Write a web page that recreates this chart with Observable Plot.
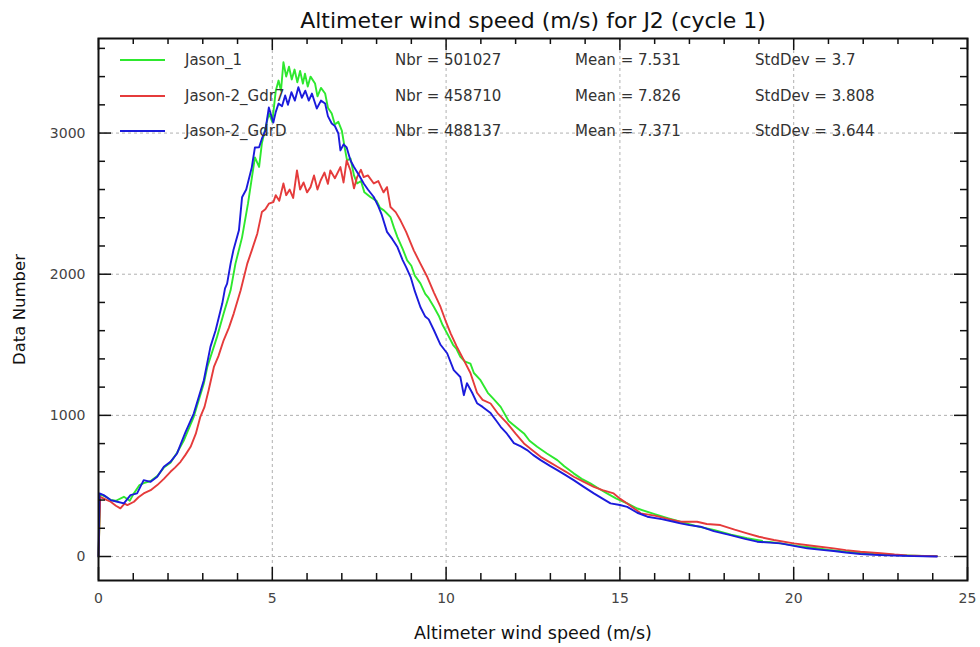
<!DOCTYPE html>
<html><head><meta charset="utf-8">
<script src="https://cdn.jsdelivr.net/npm/d3@7"></script>
<script src="https://cdn.jsdelivr.net/npm/@observablehq/plot@0.6"></script>
<style>
body{margin:0;background:#fff;}
#chart svg{font-family:"DejaVu Sans",sans-serif;display:block;}
</style>
</head><body><div id="chart"></div>
<script>
const chartTitle = "Altimeter wind speed (m/s) for J2 (cycle 1)";
const xLabel = "Altimeter wind speed (m/s)";
const yLabel = "Data Number";
const seriesNames = ["Jason_1", "Jason-2_Gdr7", "Jason-2_GdrD"];
const seriesColors = ["#2ee82e", "#e53b3b", "#1b1bdc"];
const statNbr = ["Nbr = 501027", "Nbr = 458710", "Nbr = 488137"];
const statMean = ["Mean = 7.531", "Mean = 7.826", "Mean = 7.371"];
const statStd = ["StdDev = 3.7", "StdDev = 3.808", "StdDev = 3.644"];
const xTicks = [0, 5, 10, 15, 20, 25];
const yTicks = [0, 1000, 2000, 3000];

// Jason_1 (green)
const speedJ1 = [0,0.05,0.2,0.35,0.5,0.73,0.9,1.0,1.18,1.3,1.5,1.69,1.88,2.07,2.26,2.45,2.74,3.03,3.13,3.41,3.6,3.8,3.94,4.13,4.3,4.5,4.62,4.7,4.9,5.0,5.1,5.18,5.25,5.32,5.4,5.48,5.56,5.64,5.72,5.8,5.88,5.94,6.02,6.1,6.23,6.3,6.4,6.52,6.6,6.71,6.8,6.9,7.0,7.08,7.15,7.25,7.35,7.44,7.55,7.65,7.82,8.0,8.1,8.21,8.3,8.4,8.5,8.6,8.75,8.88,9.0,9.1,9.26,9.4,9.5,9.65,9.8,9.9,10.03,10.2,10.3,10.41,10.55,10.7,10.8,10.99,11.2,11.35,11.57,11.8,12.0,12.24,12.4,12.62,12.9,13.2,13.4,13.67,13.9,14.15,14.4,14.63,14.9,15.21,15.5,16.0,16.4,16.74,17.2,17.7,18.2,18.66,19.1,19.62,20.1,20.58,21.0,21.54,22.0,22.5,23.0,23.45,24.12];
const countJ1 = [0,440,425,400,395,423,395,440,506,520,535,570,630,665,735,820,990,1226,1343,1556,1721,1886,2075,2261,2500,2828,2760,2927,3139,3080,3300,3372,3300,3502,3400,3470,3380,3450,3360,3440,3350,3421,3330,3400,3351,3260,3320,3280,3180,3139,3060,3080,3018,2900,2806,2820,2700,2643,2660,2580,2547,2520,2470,2452,2430,2405,2330,2263,2180,2098,2060,1990,1935,1860,1830,1768,1700,1640,1581,1500,1470,1414,1380,1367,1300,1249,1160,1120,1060,960,920,872,820,777,730,683,640,589,550,518,480,447,410,376,340,300,270,246,215,188,155,129,110,93,75,62,47,34,25,18,10,6,3];

// Jason-2_Gdr7 (red)
const speedG7 = [0,0.05,0.2,0.35,0.5,0.63,0.75,0.83,1.02,1.15,1.3,1.5,1.69,1.88,2.07,2.2,2.36,2.5,2.65,2.8,2.93,3.05,3.17,3.32,3.45,3.6,3.75,3.89,4.09,4.28,4.41,4.57,4.7,4.8,4.9,5.03,5.1,5.2,5.32,5.4,5.5,5.6,5.71,5.8,5.9,6.0,6.1,6.2,6.3,6.39,6.5,6.6,6.67,6.8,6.96,7.05,7.14,7.25,7.35,7.44,7.55,7.63,7.75,7.92,8.05,8.2,8.3,8.4,8.55,8.69,8.85,9.07,9.25,9.46,9.65,9.84,10.0,10.13,10.3,10.51,10.7,10.89,11.05,11.28,11.5,11.76,12.0,12.24,12.5,12.72,13.0,13.2,13.45,13.67,13.95,14.25,14.5,14.82,15.0,15.21,15.6,16.0,16.4,16.74,17.22,17.5,17.89,18.3,18.66,19.0,19.43,20.0,20.58,21.15,21.5,21.92,22.5,22.9,23.26,23.7,24.12];
const countG7 = [0,423,405,388,360,341,375,364,388,420,447,470,506,550,600,630,671,720,777,870,990,1060,1180,1343,1420,1532,1620,1721,1886,2075,2169,2289,2440,2460,2500,2511,2560,2520,2643,2560,2600,2540,2735,2600,2650,2580,2617,2700,2600,2664,2720,2640,2735,2680,2759,2650,2806,2735,2608,2688,2740,2688,2700,2643,2660,2580,2617,2476,2440,2380,2300,2169,2080,1980,1870,1768,1660,1581,1490,1391,1300,1160,1110,1084,1010,943,870,801,750,706,665,636,600,565,530,494,470,447,410,376,306,290,265,246,246,230,223,190,164,140,117,93,74,58,45,34,23,14,8,4,2];

// Jason-2_GdrD (blue)
const speedGD = [0,0.03,0.15,0.35,0.54,0.73,0.92,1.11,1.3,1.5,1.69,1.88,2.07,2.26,2.5,2.74,3.03,3.22,3.37,3.56,3.64,3.7,3.8,3.88,4.04,4.13,4.25,4.41,4.5,4.62,4.7,4.8,4.9,5.03,5.1,5.18,5.28,5.37,5.45,5.55,5.65,5.75,5.85,5.95,6.05,6.14,6.28,6.4,6.52,6.6,6.71,6.8,6.9,6.96,7.05,7.14,7.25,7.35,7.5,7.63,7.75,7.92,8.05,8.15,8.3,8.45,8.6,8.75,8.85,8.98,9.1,9.26,9.4,9.5,9.65,9.84,10.03,10.22,10.41,10.51,10.6,10.75,10.89,11.05,11.28,11.45,11.57,11.75,11.95,12.15,12.33,12.5,12.72,13.0,13.2,13.45,13.67,13.95,14.25,14.5,14.73,15.0,15.21,15.5,15.79,16.2,16.55,16.74,17.0,17.32,17.7,18.18,18.6,18.95,19.3,19.62,20.0,20.39,20.8,21.15,21.5,21.92,22.3,22.69,23.1,23.45,24.12];
const countGD = [0,447,435,400,388,376,435,447,541,529,565,636,671,730,880,1013,1249,1485,1603,1792,1900,1933,2075,2169,2311,2545,2600,2757,2898,2900,2960,3018,3181,3075,3150,3209,3190,3266,3200,3290,3230,3325,3250,3300,3230,3280,3174,3230,3209,3120,3068,3050,2997,2877,2920,2898,2806,2760,2700,2643,2600,2547,2480,2420,2300,2250,2192,2100,2050,1980,1880,1768,1700,1680,1603,1500,1440,1320,1272,1143,1228,1160,1086,1060,1016,960,919,870,803,780,754,720,683,640,612,575,541,495,447,410,376,365,352,310,282,265,246,235,222,211,180,152,125,105,98,93,75,58,47,39,28,18,12,8,5,3,0];

const W = 980, H = 647, mL = 98, mR = 13, mT = 38, mB = 67;
const fW = W - mL - mR, fH = H - mT - mB;
const xMinor = d3.range(0, 26).filter(v => v % 5 !== 0);
const yMinor = d3.range(200, 3670, 200).filter(v => v % 1000 !== 0);

const toRows = (xs, ys, name) => xs.map((x, i) => ({x, y: ys[i], name}));
const rowsJ1 = toRows(speedJ1, countJ1, seriesNames[0]);
const rowsG7 = toRows(speedG7, countG7, seriesNames[1]);
const rowsGD = toRows(speedGD, countGD, seriesNames[2]);

const grid = {stroke: "#b0b0b0", strokeOpacity: 1, strokeDasharray: "3,3", strokeWidth: 1};
const tickStyle = {stroke: "#111", strokeWidth: 1.5};

const svg = Plot.plot({
  width: W, height: H,
  marginLeft: mL, marginRight: mR, marginTop: mT, marginBottom: mB,
  x: {domain: [0, 25]},
  y: {domain: [-170, 3670]},
  style: {fontFamily: "DejaVu Sans, sans-serif", background: "#fff", overflow: "visible"},
  marks: [
    Plot.gridX(xTicks, grid),
    Plot.gridY(yTicks, grid),
    Plot.line(rowsJ1, {x: "x", y: "y", stroke: seriesColors[0], strokeWidth: 1.9}),
    Plot.line(rowsG7, {x: "x", y: "y", stroke: seriesColors[1], strokeWidth: 1.9}),
    Plot.line(rowsGD, {x: "x", y: "y", stroke: seriesColors[2], strokeWidth: 1.9}),
    Plot.ruleX(xTicks, {x: d => d, insetTop: fH - 13, ...tickStyle}),
    Plot.ruleX(xTicks, {x: d => d, insetBottom: fH - 12, ...tickStyle}),
    Plot.ruleX(xMinor, {x: d => d, insetTop: fH - 7, ...tickStyle}),
    Plot.ruleX(xMinor, {x: d => d, insetBottom: fH - 6, ...tickStyle}),
    Plot.ruleY(yTicks, {y: d => d, insetRight: fW - 13, ...tickStyle}),
    Plot.ruleY(yTicks, {y: d => d, insetLeft: fW - 13, ...tickStyle}),
    Plot.ruleY(yMinor, {y: d => d, insetRight: fW - 7, ...tickStyle}),
    Plot.ruleY(yMinor, {y: d => d, insetLeft: fW - 7, ...tickStyle}),
    Plot.frame({stroke: "#111", strokeWidth: 2}),
    Plot.axisX(xTicks, {tickSize: 0, tickPadding: 13, label: null, fontSize: 14, color: "#444", tickFormat: d => String(d)}),
    Plot.axisY(yTicks, {tickSize: 0, tickPadding: 13, label: null, fontSize: 14, color: "#444", tickFormat: d => String(d)}),
    Plot.text([chartTitle], {text: d => d, frameAnchor: "top", textAnchor: "middle", dy: -26, fontSize: 22, fill: "#111"}),
    Plot.text([xLabel], {text: d => d, frameAnchor: "bottom", textAnchor: "middle", dy: 58, fontSize: 17.5, fill: "#111"}),
    Plot.text([yLabel], {text: d => d, frameAnchor: "left", textAnchor: "middle", dx: -79, rotate: -90, fontSize: 16.5, fill: "#111"})
  ]
});
document.getElementById("chart").appendChild(svg);

// legend rows drawn into the same svg
const lg = d3.select(svg).append("g")
  .attr("font-family", "DejaVu Sans, sans-serif").attr("font-size", 15)
  .attr("fill", "#333").attr("text-anchor", "start");
const rowY = [60, 96, 131];
seriesNames.forEach((name, i) => {
  lg.append("line").attr("x1", mL + 22).attr("x2", mL + 67).attr("y1", rowY[i]).attr("y2", rowY[i])
    .attr("stroke", seriesColors[i]).attr("stroke-width", 2);
  const cols = [[mL + 87, name], [mL + 297, statNbr[i]], [mL + 477, statMean[i]], [mL + 657, statStd[i]]];
  cols.forEach(([x, t]) => lg.append("text").attr("x", x).attr("y", rowY[i]).attr("dy", "0.35em").text(t));
});
</script>
</body></html>
